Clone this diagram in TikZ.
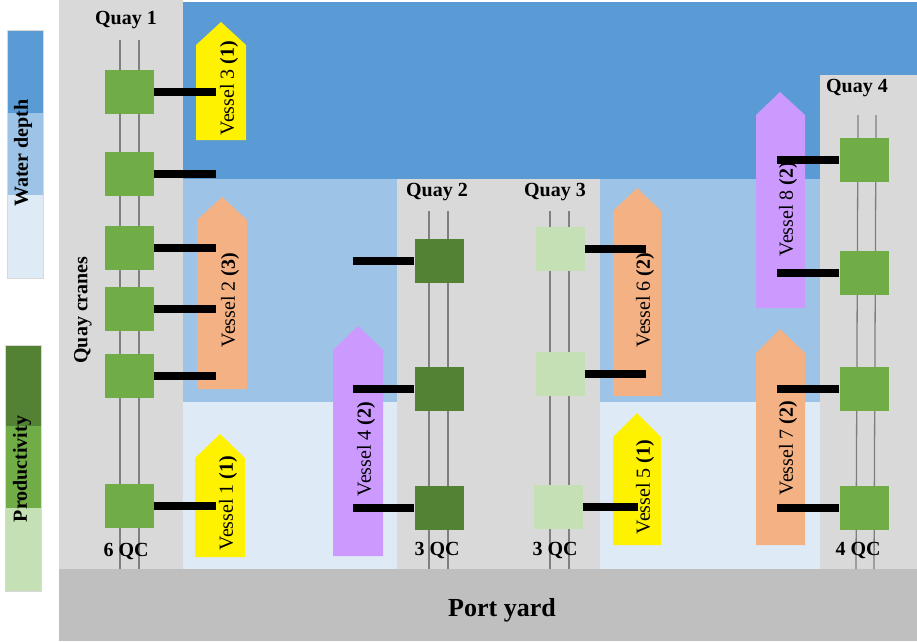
\documentclass[tikz,border=0pt]{standalone}
\usepackage{fontspec}
\setmainfont{Liberation Serif}
\usepackage{tikz}
\usetikzlibrary{positioning}
\definecolor{deepwater}{HTML}{5B9BD5}
\definecolor{midwater}{HTML}{9DC3E6}
\definecolor{shallow}{HTML}{DEEBF7}
\definecolor{quaygray}{HTML}{D9D9D9}
\definecolor{yardgray}{HTML}{BFBFBF}
\definecolor{highprod}{HTML}{548235}
\definecolor{midprod}{HTML}{70AD47}
\definecolor{lowprod}{HTML}{C5E0B4}
\definecolor{peach}{HTML}{F4B183}
\definecolor{lilac}{HTML}{CC99FF}
\definecolor{railgray}{HTML}{7F7F7F}

\begin{document}
\begin{tikzpicture}[
    x=1pt, y=-1pt,
    crane/.style={rectangle, minimum width=49pt, minimum height=44pt, inner sep=0pt},
    boom/.style={line width=8pt, black},
    rail/.style={railgray, line width=1.3pt},
    title/.style={font=\fontsize{20}{22}\selectfont\bfseries},
    vlabel/.style={rotate=90, font=\fontsize{20}{22}\selectfont, inner sep=0pt}
]
\useasboundingbox (0,0) rectangle (917,641);
% water and quays
\fill[quaygray] (59,0) rectangle (183,569);
\fill[deepwater] (183,2) rectangle (917,179);
\fill[midwater] (183,179) rectangle (820,402);
\fill[shallow] (183,402) rectangle (820,569);
\fill[quaygray] (397,179) rectangle (600,569);
\fill[quaygray] (820,75) rectangle (917,569);
\fill[yardgray] (59,569) rectangle (917,641);
\node[title, font=\fontsize{26}{28}\selectfont\bfseries] (yard) at (502,610) {Port yard};

% legend
\fill[deepwater] (7,30) rectangle (43,113);
\fill[midwater] (7,113) rectangle (43,195);
\fill[shallow] (7,195) rectangle (43,278);
\draw[black!15] (7,30) rectangle (43,278);
\node[title, rotate=90] (depth) at (23,153) {Water depth};
\fill[highprod] (5,345) rectangle (41,426);
\fill[midprod] (5,426) rectangle (41,508);
\fill[lowprod] (5,508) rectangle (41,591);
\draw[black!15] (5,345) rectangle (41,591);
\node[title, rotate=90] (prod) at (22,469) {Productivity};

% vessels
\fill[yellow] (196,140) -- (196,45) -- (221,22) -- (246,45) -- (246,140) -- cycle;
\node[vlabel] (v3) at (229,88) {Vessel 3 \textbf{(1)}};
\fill[peach] (197,389) -- (197,220) -- (222,197) -- (247,220) -- (247,389) -- cycle;
\node[vlabel] (v2) at (230,300) {Vessel 2 \textbf{(3)}};
\fill[yellow] (195,557) -- (195,458) -- (220,434) -- (245,458) -- (245,557) -- cycle;
\node[vlabel] (v1) at (228,503) {Vessel 1 \textbf{(1)}};
\fill[lilac] (333,556) -- (333,350) -- (358,326) -- (383,350) -- (383,556) -- cycle;
\node[vlabel] (v4) at (366,449) {Vessel 4 \textbf{(2)}};
\fill[peach] (613,396) -- (613,211) -- (637,188) -- (661,211) -- (661,396) -- cycle;
\node[vlabel] (v6) at (645,300) {Vessel 6 \textbf{(2)}};
\fill[yellow] (613,545) -- (613,437) -- (637,413) -- (661,437) -- (661,545) -- cycle;
\node[vlabel] (v5) at (645,487) {Vessel 5 \textbf{(1)}};
\fill[lilac] (756,308) -- (756,115) -- (780,92) -- (805,115) -- (805,308) -- cycle;
\node[vlabel] (v8) at (788,209) {Vessel 8 \textbf{(2)}};
\fill[peach] (756,545) -- (756,353) -- (780,329) -- (805,353) -- (805,545) -- cycle;
\node[vlabel] (v7) at (788,448) {Vessel 7 \textbf{(2)}};

% quay 1
\node[title] (quay1) at (126,20) {Quay 1};
\draw[rail] (120,40) -- (120,569);
\draw[rail] (139,40) -- (139,569);
\node[crane, fill=midprod] (q1a) at (129.5,92) {};
\node[crane, fill=midprod] (q1b) at (129.5,174) {};
\node[crane, fill=midprod] (q1c) at (129.5,248) {};
\node[crane, fill=midprod] (q1d) at (129.5,308.5) {};
\node[crane, fill=midprod] (q1e) at (129.5,376) {};
\node[crane, fill=midprod] (q1f) at (129.5,506) {};
\draw[boom] (q1a.east) -- ++(62,0);
\draw[boom] (q1b.east) -- ++(62,0);
\draw[boom] (q1c.east) -- ++(62,0);
\draw[boom] (q1d.east) -- ++(62,0);
\draw[boom] (q1e.east) -- ++(62,0);
\draw[boom] (q1f.east) -- ++(62,0);
\node[title] (qc1) at (126,551) {6 QC};
\node[title, rotate=90] (cranes) at (83,310) {Quay cranes};

% quay 2
\node[title] (quay2) at (437,192) {Quay 2};
\draw[rail] (429,211) -- (429,569);
\draw[rail] (448,211) -- (448,569);
\node[crane, fill=highprod] (q2a) at (439,261) {};
\node[crane, fill=highprod] (q2b) at (439,389) {};
\node[crane, fill=highprod] (q2c) at (439,507.5) {};
\draw[boom] (q2a.west) -- ++(-61,0);
\draw[boom] (q2b.west) -- ++(-61,0);
\draw[boom] (q2c.west) -- ++(-61,0);
\node[title] (qc2) at (437,550) {3 QC};

% quay 3
\node[title] (quay3) at (555,192) {Quay 3};
\draw[rail] (550,211) -- (550,569);
\draw[rail] (569,211) -- (569,569);
\node[crane, fill=lowprod] (q3a) at (560,249) {};
\node[crane, fill=lowprod] (q3b) at (560,373.5) {};
\node[crane, fill=lowprod] (q3c) at (558,507) {};
\draw[boom] (q3a.east) -- ++(61,0);
\draw[boom] (q3b.east) -- ++(61,0);
\draw[boom] (q3c.east) -- ++(55,0);
\node[title] (qc3) at (555,550) {3 QC};

% quay 4
\node[title] (quay4) at (857,88) {Quay 4};
\draw[rail] (858,115) -- (856,569);
\draw[rail] (876,115) -- (874,569);
\node[crane, fill=midprod] (q4a) at (864,159.5) {};
\node[crane, fill=midprod] (q4b) at (864,273) {};
\node[crane, fill=midprod] (q4c) at (864,388.5) {};
\node[crane, fill=midprod] (q4d) at (864,507.5) {};
\draw[boom] (q4a.west) -- ++(-62,0);
\draw[boom] (q4b.west) -- ++(-62,0);
\draw[boom] (q4c.west) -- ++(-62,0);
\draw[boom] (q4d.west) -- ++(-62,0);
\node[title] (qc4) at (858,550) {4 QC};
\end{tikzpicture}
\end{document}
